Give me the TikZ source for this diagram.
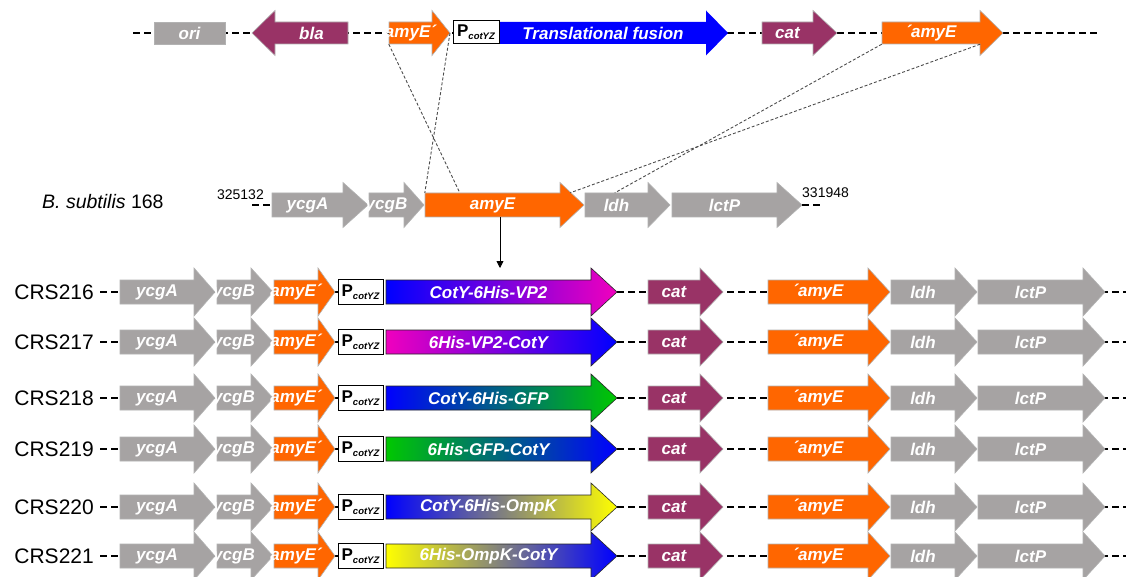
\documentclass[tikz,border=0pt]{standalone}
\usepackage{fontspec}
\setmainfont{Liberation Sans}
\usetikzlibrary{arrows.meta}

\definecolor{genegray}{RGB}{166,163,163}
\definecolor{genemaroon}{RGB}{153,51,102}
\definecolor{geneorange}{RGB}{255,102,0}
\definecolor{fusionblue}{RGB}{0,0,255}
\definecolor{fusionmagenta}{RGB}{240,0,190}
\definecolor{fusiongreen}{RGB}{0,200,0}
\definecolor{fusionyellow}{RGB}{255,255,0}

\tikzset{
    gene/.style={draw=black!30, line width=0.6pt},
    fusion/.style={draw=black!85, line width=0.6pt},
    genelabel/.style={inner sep=0pt, text=white,
        font=\fontsize{17}{17}\selectfont\bfseries\itshape},
    promoter/.style={draw=black, fill=white, line width=0.6pt, inner sep=1pt},
    strain/.style={anchor=east, inner xsep=6pt, inner ysep=0pt,
        font=\fontsize{21}{21}\selectfont},
    coordlabel/.style={inner sep=0pt, font=\fontsize{14}{14}\selectfont},
    backbone/.style={line width=2pt, dash pattern=on 7pt off 4pt},
    crossover/.style={line width=0.9pt, black!70, dash pattern=on 3pt off 2pt}
}

% gene arrow: name, start, head base, tip, y, style, label
\newcommand{\gene}[7]{%
    \path[#6] (#2,#5-\hb) -- (#3,#5-\hb) -- (#3,#5-\hh) -- (#4,#5)
        -- (#3,#5+\hh) -- (#3,#5+\hb) -- (#2,#5+\hb) -- cycle;
    \pgfmathsetmacro\gw{abs(#3-#2)}
    \pgfmathsetmacro\gh{2*\hb}
    \node[inner sep=0pt, minimum width=\gw pt, minimum height=\gh pt] (#1) at ({(#2+#3)/2},#5) {};
    \node[genelabel] (#1-l) at (#1) {#7};
    \coordinate (#1-tip) at (#4,#5);
}
\newcommand{\pcot}{{\fontsize{17}{17}\selectfont\bfseries P}\raisebox{-3pt}{\fontsize{9.5}{10}\selectfont\bfseries\itshape cotYZ}}

\begin{document}
\begin{tikzpicture}[x=1pt, y=-1pt]
    \path[use as bounding box, fill=white] (0,0) rectangle (1126,577);

    % vector
    \def\hb{11}\def\hh{22.5}
    \coordinate (top-l) at (133,33);
    \coordinate (top-r) at (1100,33);
    \draw[backbone] (top-l) -- (top-r);
    \node[gene, fill=genegray, inner sep=0pt, minimum width=71pt, minimum height=22pt] (ori) at (189.5,33) {};
    \node[genelabel] (ori-l) at (ori) {ori};
    \gene{bla}{348}{275}{252}{33}{gene, fill=genemaroon}{bla}
    \gene{amyEt}{389}{432}{450}{33}{gene, fill=geneorange}{amyE´}
    \node[promoter, minimum width=46pt, minimum height=23pt] (pt) at (476,32) {\pcot};
    \gene{fus}{500}{706}{728}{33}{fill=fusionblue}{Translational fusion}
    \gene{cat}{762}{813}{837}{33}{gene, fill=genemaroon}{cat}
    \gene{amyEr}{882}{980}{1003}{33}{gene, fill=geneorange}{´amyE}

    % chromosome
    \def\hb{12}\def\hh{22.5}
    \node[anchor=west, inner sep=0pt, font=\fontsize{19.5}{20}\selectfont] (bsub) at (42,202) {{\itshape B. subtilis} 168};
    \node[coordlabel, anchor=base east] (posl) at (264,200) {325132};
    \node[coordlabel, anchor=base west] (posr) at (802,198) {331948};
    \coordinate (mid-l) at (252,205);
    \coordinate (mid-r) at (822,205);
    \gene{ycgAm}{272}{343}{368}{205}{gene, fill=genegray}{ycgA}
    \gene{ycgBm}{369}{404}{424}{205}{gene, fill=genegray}{ycgB}
    \gene{amyEm}{425}{560}{584}{205}{gene, fill=geneorange}{amyE}
    \gene{ldhm}{585}{648}{670}{205}{gene, fill=genegray}{ldh}
    \gene{lctPm}{672}{777}{802}{205}{gene, fill=genegray}{lctP}
    \draw[backbone] (mid-l) -- (ycgAm.west);
    \draw[backbone] (lctPm-tip) -- (mid-r);

    \draw[crossover] (amyEt.south west) -- ([xshift=35pt]amyEm.north west);
    \draw[crossover] (amyEt-tip) -- (amyEm.north west);
    \draw[crossover] (amyEr.south west) -- ([xshift=30pt]ldhm.north west);
    \draw[crossover] (amyEr.south east) -- ([xshift=10pt]amyEm.north east);

    \coordinate (ins) at (500,268);
    \draw[line width=0.8pt, -{Triangle[width=7pt,length=7pt]}] ([xshift=7.5pt]amyEm.south) -- (ins);

    % strains
    \def\hb{12}\def\hh{24}
    \foreach \y/\n/\lc/\rc/\fus in {
        292/216/fusionblue/fusionmagenta/CotY-6His-VP2,
        342/217/fusionmagenta/fusionblue/6His-VP2-CotY,
        398/218/fusionblue/fusiongreen/CotY-6His-GFP,
        449/219/fusiongreen/fusionblue/6His-GFP-CotY,
        507/220/fusionblue/fusionyellow/CotY-6His-OmpK,
        556/221/fusionyellow/fusionblue/6His-OmpK-CotY}{
        \node[strain] (crs\n) at (100,\y) {CRS\n};
        \coordinate (end\n) at (1126,\y);
        \draw[backbone] (crs\n.east) -- (end\n);
        \gene{ycgA\n}{120}{194}{215}{\y}{gene, fill=genegray}{ycgA}
        \gene{ycgB\n}{217}{251}{273}{\y}{gene, fill=genegray}{ycgB}
        \gene{amyEa\n}{274}{318}{335}{\y}{gene, fill=geneorange}{amyE´}
        \node[promoter, minimum width=45pt, minimum height=25pt] (p\n) at (360.5,\y) {\pcot};
        \gene{fus\n}{386}{591}{617}{\y}{fusion, left color=\lc, right color=\rc}{\fus}
        \gene{cat\n}{648}{700}{723}{\y}{gene, fill=genemaroon}{cat}
        \gene{amyEb\n}{768}{868}{890}{\y}{gene, fill=geneorange}{´amyE}
        \gene{ldh\n}{891}{955}{977}{\y}{gene, fill=genegray}{ldh}
        \gene{lctP\n}{978}{1083}{1105}{\y}{gene, fill=genegray}{lctP}
    }
\end{tikzpicture}
\end{document}
